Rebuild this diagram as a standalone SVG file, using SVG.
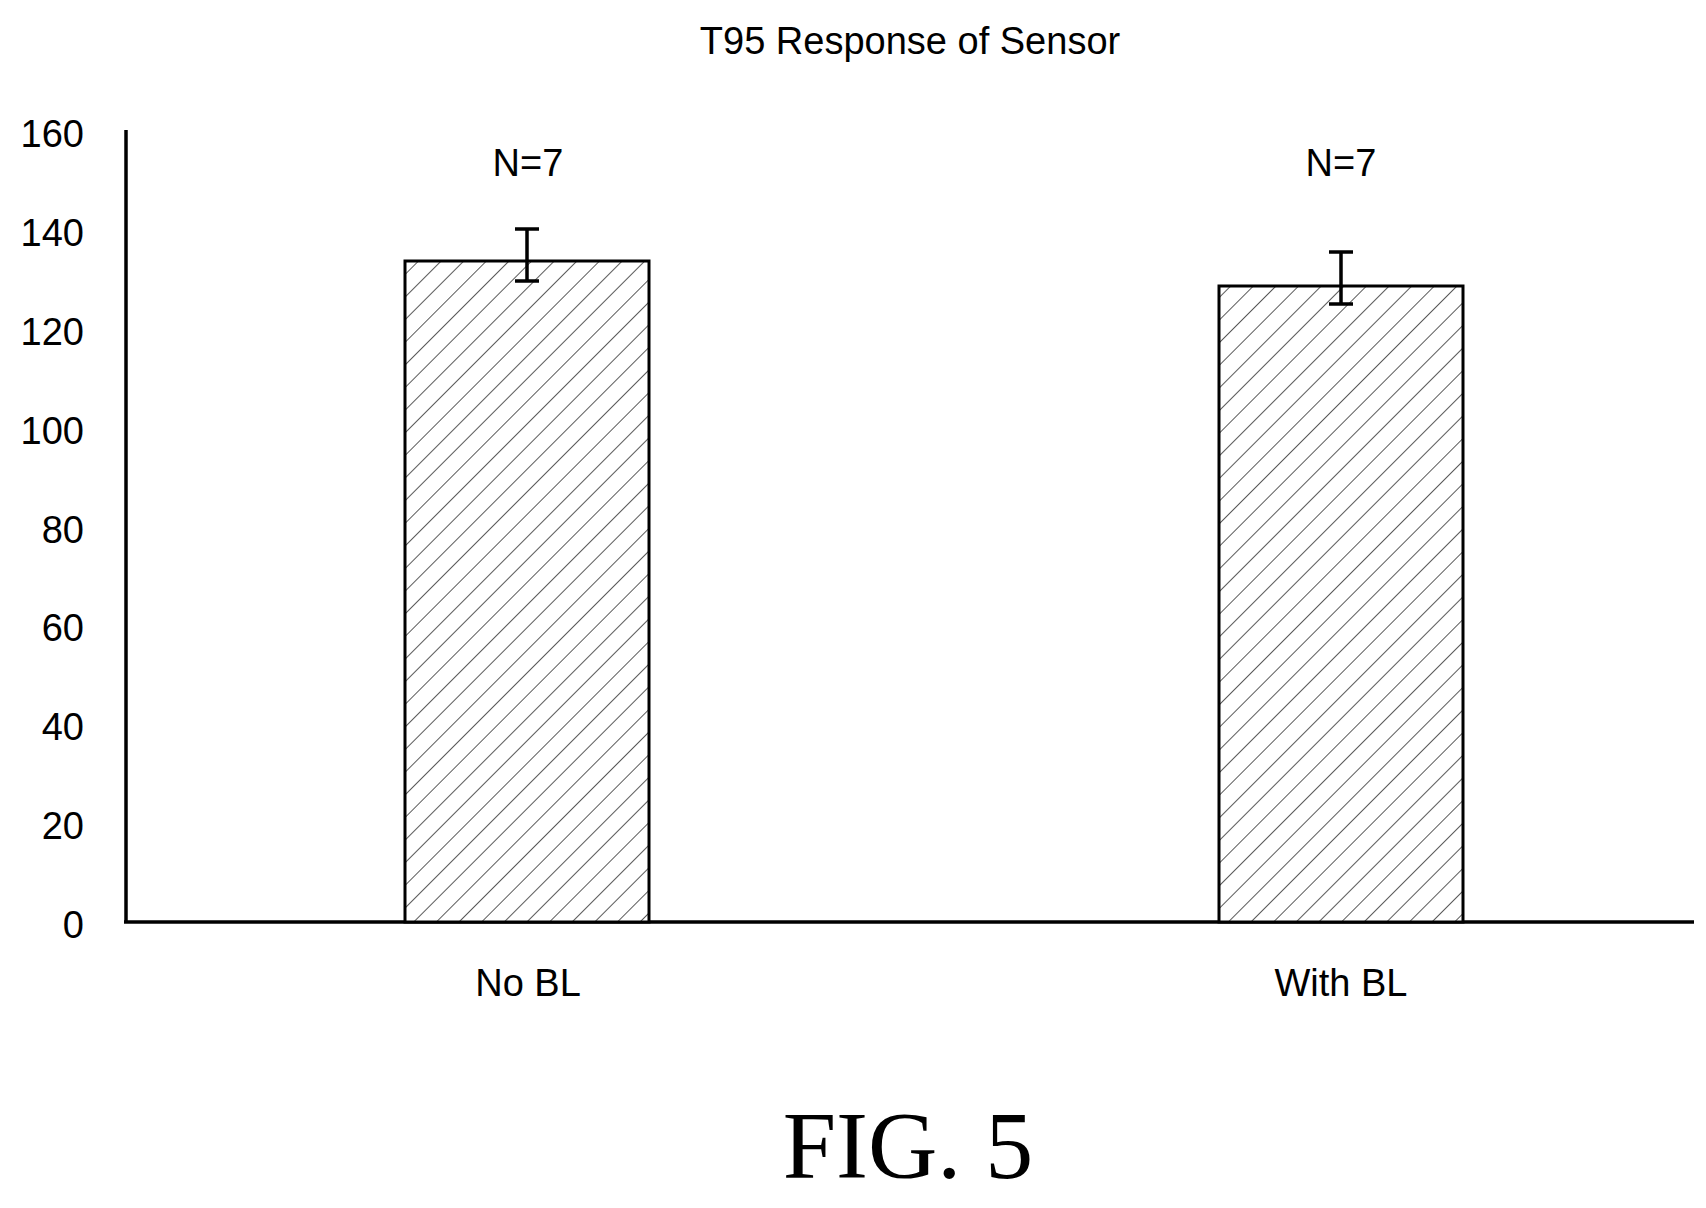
<svg xmlns="http://www.w3.org/2000/svg" width="1706" height="1208" viewBox="0 0 1706 1208">
<style>
.t{font-family:"Liberation Sans",Arial,sans-serif;font-size:38px;fill:#000}
.y{text-anchor:end}
.c{text-anchor:middle}
.bar{fill:url(#h);stroke:#000;stroke-width:3}
.e{stroke:#000;stroke-width:3.5;fill:none}
</style>
<defs>
<pattern id="h" patternUnits="userSpaceOnUse" width="16" height="16" patternTransform="rotate(45)">
<rect width="16" height="16" fill="#fff"/>
<line x1="0" y1="0" x2="0" y2="16" stroke="#000" stroke-width="1.3"/>
</pattern>
</defs>
<rect width="1706" height="1208" fill="#fff"/>
<text class="t c" x="910" y="54" font-size="36">T95 Response of Sensor</text>
<g id="axes" stroke="#000" stroke-width="3.5">
<line x1="126" y1="130" x2="126" y2="923"/>
<line x1="124" y1="922" x2="1694" y2="922"/>
</g>
<g id="ticks">
<text class="t y" x="84" y="147">160</text>
<text class="t y" x="84" y="246">140</text>
<text class="t y" x="84" y="345">120</text>
<text class="t y" x="84" y="444">100</text>
<text class="t y" x="84" y="543">80</text>
<text class="t y" x="84" y="641">60</text>
<text class="t y" x="84" y="740">40</text>
<text class="t y" x="84" y="839">20</text>
<text class="t y" x="84" y="938">0</text>
</g>
<g id="bar1">
<rect class="bar" x="405" y="261" width="244" height="661"/>
<path class="e" d="M527 229V281M515 229H539M515 281H539"/>
<text class="t c" x="528" y="176">N=7</text>
<text class="t c" x="528" y="996">No BL</text>
</g>
<g id="bar2">
<rect class="bar" x="1219" y="286" width="244" height="636"/>
<path class="e" d="M1341 252V304M1329 252H1353M1329 304H1353"/>
<text class="t c" x="1341" y="176">N=7</text>
<text class="t c" x="1341" y="996">With BL</text>
</g>
<text x="908" y="1178" text-anchor="middle" font-family="Liberation Serif,serif" font-size="96">FIG. 5</text>
</svg>
